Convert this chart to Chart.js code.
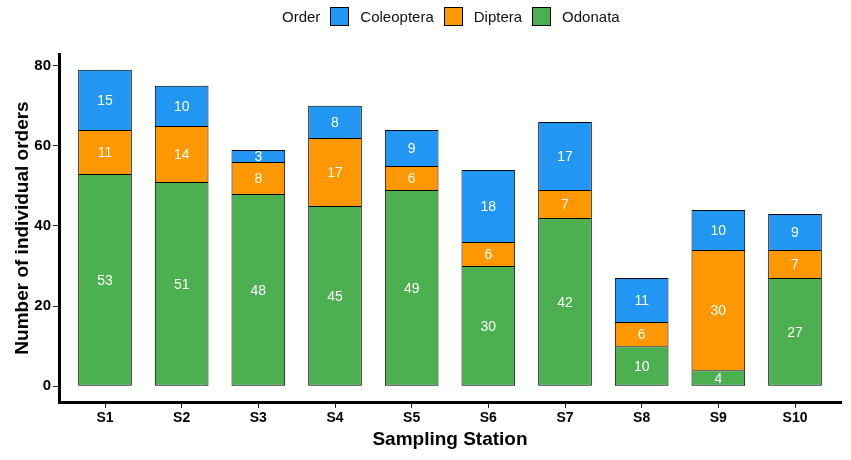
<!DOCTYPE html>
<html><head><meta charset="utf-8">
<script src="https://cdn.jsdelivr.net/npm/chart.js@4"></script>
<style>
html,body{margin:0;padding:0;background:#fff;}
#wrap{position:relative;width:851px;height:460px;}
#legend{position:absolute;top:5px;left:282px;height:22px;display:flex;align-items:center;font-family:"Liberation Sans",Arial,sans-serif;font-size:15px;color:#111;}
#legend .box{width:19px;height:19px;border:1px solid #000;box-sizing:border-box;margin:0 11px 0 10px;}
</style></head>
<body><div id="wrap"><canvas id="c" width="851" height="460"></canvas>
<div id="legend"></div></div>
<script>
const stations = ["S1","S2","S3","S4","S5","S6","S7","S8","S9","S10"];
const odonata = [53,51,48,45,49,30,42,10,4,27];
const diptera = [11,14,8,17,6,6,7,6,30,7];
const coleoptera = [15,10,3,8,9,18,17,11,10,9];
const yTicks = [0,20,40,60,80];
const seriesNames = ["Coleoptera","Diptera","Odonata"];
const seriesColors = {Coleoptera:"#2196F3",Diptera:"#FF9800",Odonata:"#4CAF50"};

const FONT = '"Liberation Sans", Arial, sans-serif';

// HTML legend
const lg = document.getElementById('legend');
lg.innerHTML = '<span>Order</span>' + seriesNames.map(n =>
  '<span class="box" style="background:'+seriesColors[n]+'"></span><span>'+n+'</span>').join('');

const toPts = arr => arr.map((v,i)=>({x:i+1,y:v}));
const mk = (name, arr, bottomBorder) => ({label:name, data:toPts(arr), backgroundColor:seriesColors[name],
  borderColor:'#000', borderWidth:{top:1,left:1,right:1,bottom:bottomBorder?1:0}, borderSkipped:false, stack:'s',
  categoryPercentage:0.7, barPercentage:1.0});

const labelPlugin = {
  id:'valLabels',
  afterDatasetsDraw(chart){
    const ctx = chart.ctx;
    ctx.save();
    ctx.fillStyle = '#fff';
    ctx.font = '14px ' + FONT;
    ctx.textAlign = 'center';
    ctx.textBaseline = 'middle';
    chart.data.datasets.forEach((ds, di) => {
      const meta = chart.getDatasetMeta(di);
      meta.data.forEach((el, i) => {
        const v = ds.data[i].y;
        const cy = (el.y + el.base)/2;
        ctx.fillText(String(v), el.x, cy + 1);
      });
    });
    ctx.restore();
  }
};

new Chart(document.getElementById('c'), {
  type:'bar',
  data:{datasets:[mk('Odonata',odonata,true), mk('Diptera',diptera,false), mk('Coleoptera',coleoptera,false)]},
  options:{
    responsive:false, animation:false,
    layout:{padding:{top:54,right:10,left:0,bottom:0}},
    plugins:{legend:{display:false}, tooltip:{enabled:false}},
    scales:{
      x:{type:'linear', min:0.4, max:10.6, stacked:true, offset:false,
        afterBuildTicks(s){ s.ticks = stations.map((_,i)=>({value:i+1})); },
        afterFit(s){ s.height = 58; },
        ticks:{callback:(v)=>stations[v-1], color:'#000', font:{family:FONT,size:14,weight:'bold'}, padding:2, autoSkip:false, maxRotation:0},
        grid:{offset:false, drawOnChartArea:false, drawTicks:true, tickLength:6, color:'#222', lineWidth:1},
        border:{display:true, color:'#000', width:3},
        title:{display:true, text:'Sampling Station', color:'#000', font:{family:FONT,size:19,weight:'bold'}, padding:{top:0,bottom:9}}
      },
      y:{type:'linear', min:-3.95, max:82.95, stacked:true,
        afterBuildTicks(s){ s.ticks = yTicks.map(v=>({value:v})); },
        afterFit(s){ s.width = 59; },
        ticks:{color:'#000', font:{family:FONT,size:15,weight:'bold'}, padding:2},
        grid:{offset:false, drawOnChartArea:false, drawTicks:true, tickLength:6, color:'#222', lineWidth:1},
        border:{display:true, color:'#000', width:3},
        title:{display:true, text:'Number of individual orders', color:'#000', font:{family:FONT,size:19,weight:'bold'}, padding:{top:11,bottom:0}}
      }
    }
  },
  plugins:[labelPlugin]
});
</script></body></html>
